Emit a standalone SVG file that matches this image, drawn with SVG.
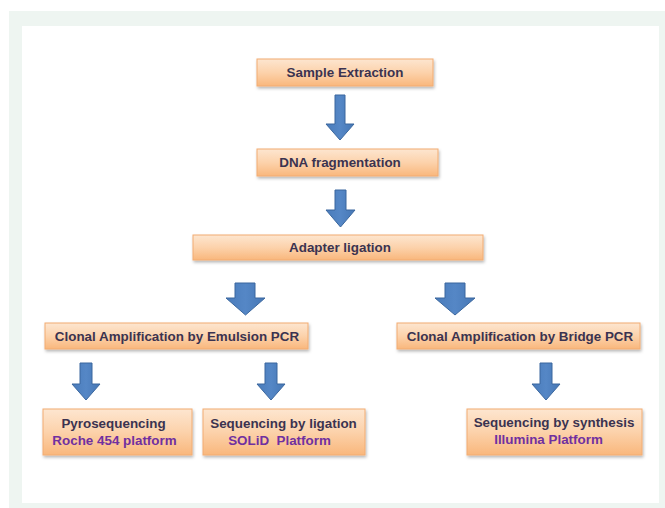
<svg xmlns="http://www.w3.org/2000/svg" width="665" height="508" viewBox="0 0 665 508">
<defs>
<linearGradient id="boxg" x1="0" y1="0" x2="0" y2="1">
<stop offset="0" stop-color="#fde6d0"/>
<stop offset="0.5" stop-color="#fcd2ab"/>
<stop offset="1" stop-color="#f9b77c"/>
</linearGradient>
<linearGradient id="arrg" x1="0" y1="0" x2="1" y2="0">
<stop offset="0" stop-color="#4a7cbb"/>
<stop offset="0.5" stop-color="#5587c6"/>
<stop offset="1" stop-color="#4677b5"/>
</linearGradient>
<filter id="sh" x="-10%" y="-30%" width="120%" height="170%">
<feDropShadow dx="1" dy="2" stdDeviation="1.5" flood-color="#000" flood-opacity="0.28"/>
</filter>
<style>
.box{fill:url(#boxg);stroke:#f2ac72;stroke-width:1;filter:url(#sh)}
.t{font-family:"Liberation Sans",Arial,sans-serif;font-weight:bold;font-size:13.4px;fill:#3b3350;text-anchor:middle}
.p{fill:#7030a0}
.arr{fill:url(#arrg);stroke:#3b679e;stroke-width:1}
</style>
</defs>
<rect x="0" y="0" width="665" height="508" fill="#ffffff"/>
<rect x="9" y="11" width="656" height="497" fill="#eef5f1"/>
<rect x="22" y="26" width="637" height="477" fill="#ffffff"/>

<g id="connectors">
<path class="arr" d="M335,95 H345 V124 H354 L340,140 L326,124 H335 Z"/>
<path class="arr" d="M335,190 H346 V210 H355 L340.5,227 L326,210 H335 Z"/>
<path class="arr" d="M235,283 H255 V298 H265 L245.5,315 L226,298 H235 Z"/>
<path class="arr" d="M445,283 H465 V298 H475 L455,315 L435,298 H445 Z"/>
<path class="arr" d="M80,363 H92 V384 H100 L86,400 L72,384 H80 Z"/>
<path class="arr" d="M265,363 H277 V384 H285 L271,400 L257,384 H265 Z"/>
<path class="arr" d="M540,363 H552 V384 H560 L546,400 L532,384 H540 Z"/>
</g>

<g id="sample-extraction">
<rect class="box" x="257" y="59" width="176" height="27"/>
<text class="t" x="345" y="77">Sample Extraction</text>
</g>
<g id="dna-fragmentation">
<rect class="box" x="257" y="149" width="181" height="27"/>
<text class="t" x="340" y="167">DNA fragmentation</text>
</g>
<g id="adapter-ligation">
<rect class="box" x="193" y="235" width="290" height="25"/>
<text class="t" x="340" y="252">Adapter ligation</text>
</g>
<g id="emulsion-pcr">
<rect class="box" x="45" y="323" width="263" height="26"/>
<text class="t" x="177" y="341">Clonal Amplification by Emulsion PCR</text>
</g>
<g id="bridge-pcr">
<rect class="box" x="397" y="323" width="243" height="26"/>
<text class="t" x="520" y="341">Clonal Amplification by Bridge PCR</text>
</g>
<g id="pyrosequencing">
<rect class="box" x="43" y="409" width="149" height="46"/>
<text class="t" x="113.5" y="428">Pyrosequencing</text>
<text class="t p" x="114.5" y="445">Roche 454 platform</text>
</g>
<g id="sequencing-ligation">
<rect class="box" x="203" y="409" width="162" height="46"/>
<text class="t" x="283.5" y="428">Sequencing by ligation</text>
<text class="t p" x="279.5" y="445" xml:space="preserve">SOLiD  Platform</text>
</g>
<g id="sequencing-synthesis">
<rect class="box" x="467" y="409" width="175" height="46"/>
<text class="t" x="554" y="427">Sequencing by synthesis</text>
<text class="t p" x="548.5" y="444">Illumina Platform</text>
</g>
</svg>
